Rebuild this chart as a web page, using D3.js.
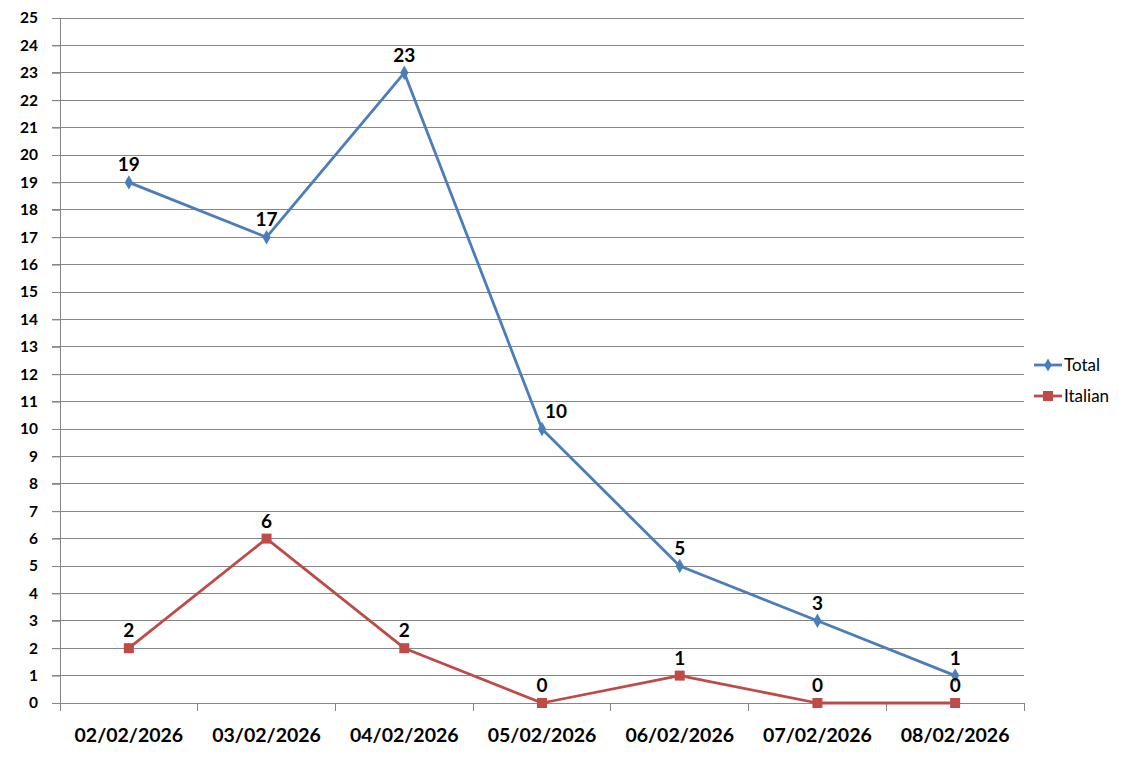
<!DOCTYPE html>
<html><head><meta charset="utf-8">
<script src="https://cdn.jsdelivr.net/npm/d3@7"></script>
<style>html,body{margin:0;padding:0;background:#fff;}svg{display:block;}</style>
</head><body>
<svg id="c" width="1136" height="764"></svg>
<script>
const categories = ["02/02/2026","03/02/2026","04/02/2026","05/02/2026","06/02/2026","07/02/2026","08/02/2026"];
const totalValues = [19,17,23,10,5,3,1];
const italianValues = [2,6,2,0,1,0,0];
const yTicks = d3.range(0,26);
const seriesNames = ["Total","Italian"];
const seriesColors = ["#4A7EBB","#BE4B48"];

(function(){
const svg = d3.select("#c");
const pLeft=60, pRight=1024, pTop=18, pBottom=703;
const font = "Lato, 'Open Sans', sans-serif";

const x = d3.scaleBand().domain(categories).range([pLeft,pRight]);
const y = d3.scaleLinear().domain([0,25]).range([pBottom,pTop]);

svg.append("g").selectAll("line").data(yTicks).join("line")
  .attr("x1",pLeft-8).attr("x2",pRight).attr("y1",d=>y(d)).attr("y2",d=>y(d))
  .attr("stroke","#868686").attr("stroke-width",1).attr("shape-rendering","crispEdges");

const ya = svg.append("g").attr("transform",`translate(${pLeft},0)`)
  .call(d3.axisLeft(y).tickValues(yTicks).tickSize(8).tickPadding(14).tickFormat(d3.format("d")));
ya.select(".domain").attr("stroke","#868686").attr("d",`M0,${pTop}V${pBottom}`).attr("shape-rendering","crispEdges");
ya.selectAll(".tick line").attr("stroke","#868686");
ya.selectAll("text").attr("font-family",font).attr("font-weight","bold").attr("font-size",15.5).attr("fill","#000");

const xa = svg.append("g").attr("transform",`translate(0,${pBottom})`)
  .call(d3.axisBottom(x).tickSize(0).tickPadding(25));
xa.select(".domain").attr("stroke","#868686").attr("d",`M${pLeft},0H${pRight}`).attr("shape-rendering","crispEdges");
xa.selectAll("text").attr("font-family",font).attr("font-weight","bold").attr("font-size",19.5).attr("fill","#000");
const bounds = categories.map(c=>x(c)).concat([pRight]);
svg.append("g").selectAll("line").data(bounds).join("line")
  .attr("x1",d=>d).attr("x2",d=>d).attr("y1",pBottom).attr("y2",pBottom+8)
  .attr("stroke","#868686").attr("shape-rendering","crispEdges");

const cx = c => x(c)+x.bandwidth()/2;
const line = d3.line().x((d,i)=>cx(categories[i])).y(d=>y(d));

const series = [totalValues, italianValues];
series.forEach((vals,si)=>{
  svg.append("path").datum(vals).attr("d",line).attr("fill","none")
    .attr("stroke",seriesColors[si]).attr("stroke-width",2.8).attr("stroke-linejoin","round");
});
svg.append("g").selectAll("path").data(totalValues).join("path")
  .attr("d",d3.symbol(d3.symbolDiamond,60)())
  .attr("transform",(d,i)=>`translate(${cx(categories[i])},${y(d)})`).attr("fill",seriesColors[0]);
svg.append("g").selectAll("rect").data(italianValues).join("rect")
  .attr("x",(d,i)=>cx(categories[i])-5).attr("y",d=>y(d)-5).attr("width",10).attr("height",10)
  .attr("fill",seriesColors[1]);

series.forEach((vals,si)=>{
  svg.append("g").selectAll("text").data(vals).join("text")
    .attr("x",(d,i)=>cx(categories[i]) + (si===0 && i===3 ? 14 : 0))
    .attr("y",d=>y(d)-11)
    .attr("text-anchor","middle").attr("font-family",font).attr("font-weight","bold")
    .attr("font-size",19).attr("fill","#000").text(d=>d);
});

const lg = svg.append("g");
seriesNames.forEach((n,i)=>{
  const ly = 365 + i*31;
  lg.append("line").attr("x1",1034).attr("x2",1062).attr("y1",ly).attr("y2",ly)
    .attr("stroke",seriesColors[i]).attr("stroke-width",2.8);
  if(i===0) lg.append("path").attr("d",d3.symbol(d3.symbolDiamond,50)()).attr("transform",`translate(1048,${ly})`).attr("fill",seriesColors[i]);
  else lg.append("rect").attr("x",1043).attr("y",ly-5).attr("width",10).attr("height",10).attr("fill",seriesColors[i]);
  lg.append("text").attr("x",1064).attr("y",ly+6).attr("font-family",font).attr("font-size",17).attr("fill","#000").text(n);
});
})();
</script>
</body></html>
